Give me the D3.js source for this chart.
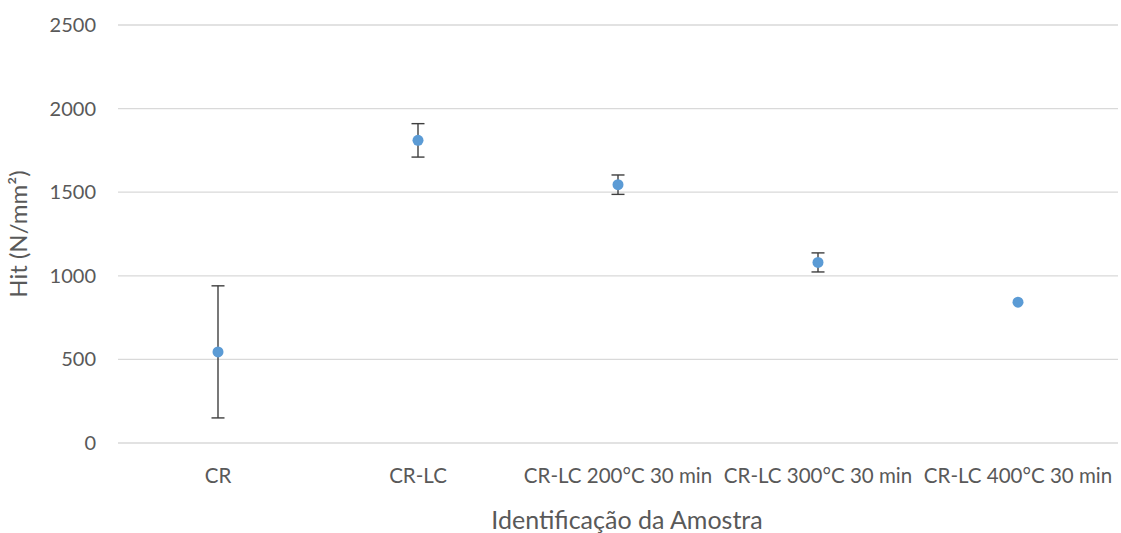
<!DOCTYPE html>
<html>
<head>
<meta charset="utf-8">
<script src="https://cdn.jsdelivr.net/npm/d3@7"></script>
<style>
  html, body { margin: 0; padding: 0; background: #ffffff; }
  svg { display: block; }
  text { font-family: Lato, "Open Sans", sans-serif; fill: #595959; }
</style>
</head>
<body>
<svg id="chart" width="1121" height="533"></svg>
<script>
// Sample identifiers
const categories = ["CR", "CR-LC", "CR-LC 200°C 30 min", "CR-LC 300°C 30 min", "CR-LC 400°C 30 min"];
// Mean Hit (N/mm²) per sample
const hitMean = [545, 1810, 1545, 1080, 842];
// Standard deviation per sample (0 = no bar drawn)
const hitError = [395, 100, 58, 57, 0];
// Y axis ticks
const yTicks = [0, 500, 1000, 1500, 2000, 2500];

const svg = d3.select("#chart");
const margin = { left: 118, right: 3, top: 25, bottom: 90 };
const W = 1121, H = 533;

const x = d3.scaleBand()
  .domain(categories)
  .range([margin.left, W - margin.right])
  .paddingInner(0).paddingOuter(0);

const y = d3.scaleLinear()
  .domain([0, 2500])
  .range([H - margin.bottom, margin.top]);

// Horizontal gridlines
svg.append("g")
  .selectAll("line")
  .data(yTicks)
  .join("line")
  .attr("x1", margin.left)
  .attr("x2", W - margin.right)
  .attr("y1", d => y(d))
  .attr("y2", d => y(d))
  .attr("stroke", "#d9d9d9")
  .attr("stroke-width", 1.3);

// Y axis labels
const yAxis = d3.axisLeft(y).tickValues(yTicks).tickFormat(d3.format("d")).tickSize(0).tickPadding(0);
const gy = svg.append("g")
  .attr("transform", `translate(${margin.left - 22},0)`)
  .call(yAxis);
gy.select(".domain").remove();
gy.selectAll("text")
  .style("font-size", "20px")
  .attr("fill", "#595959")
  .attr("font-family", "Lato, sans-serif");

// X axis labels
const xAxis = d3.axisBottom(x).tickSize(0).tickPadding(0);
const gx = svg.append("g")
  .attr("transform", `translate(0,${y(0) + 25})`)
  .call(xAxis);
gx.select(".domain").remove();
gx.selectAll("text")
  .style("font-size", "20.5px")
  .attr("fill", "#595959")
  .attr("font-family", "Lato, sans-serif");

// Error bars
const errData = categories.map((c, i) => ({ c, m: hitMean[i], e: hitError[i] })).filter(d => d.e > 0);
const eb = svg.append("g").attr("stroke", "#3f3f3f").attr("stroke-width", 1.4);
eb.selectAll("line.v").data(errData).join("line").attr("class", "v")
  .attr("x1", d => x(d.c) + x.bandwidth() / 2)
  .attr("x2", d => x(d.c) + x.bandwidth() / 2)
  .attr("y1", d => y(d.m + d.e))
  .attr("y2", d => y(d.m - d.e));
eb.selectAll("line.t").data(errData).join("line").attr("class", "t")
  .attr("x1", d => x(d.c) + x.bandwidth() / 2 - 6.5)
  .attr("x2", d => x(d.c) + x.bandwidth() / 2 + 6.5)
  .attr("y1", d => y(d.m + d.e))
  .attr("y2", d => y(d.m + d.e));
eb.selectAll("line.b").data(errData).join("line").attr("class", "b")
  .attr("x1", d => x(d.c) + x.bandwidth() / 2 - 6.5)
  .attr("x2", d => x(d.c) + x.bandwidth() / 2 + 6.5)
  .attr("y1", d => y(d.m - d.e))
  .attr("y2", d => y(d.m - d.e));

// Points
svg.append("g")
  .selectAll("circle")
  .data(categories.map((c, i) => ({ c, m: hitMean[i] })))
  .join("circle")
  .attr("cx", d => x(d.c) + x.bandwidth() / 2)
  .attr("cy", d => y(d.m))
  .attr("r", 5.5)
  .attr("fill", "#5b9bd5");

// Axis titles
svg.append("text")
  .attr("x", 627)
  .attr("y", 529)
  .attr("text-anchor", "middle")
  .style("font-size", "25px")
  .text("Identificação da Amostra");

svg.append("text")
  .attr("transform", `translate(27,${(y(0) + y(2500)) / 2}) rotate(-90)`)
  .attr("text-anchor", "middle")
  .style("font-size", "24px")
  .text("Hit (N/mm²)");
</script>
</body>
</html>
